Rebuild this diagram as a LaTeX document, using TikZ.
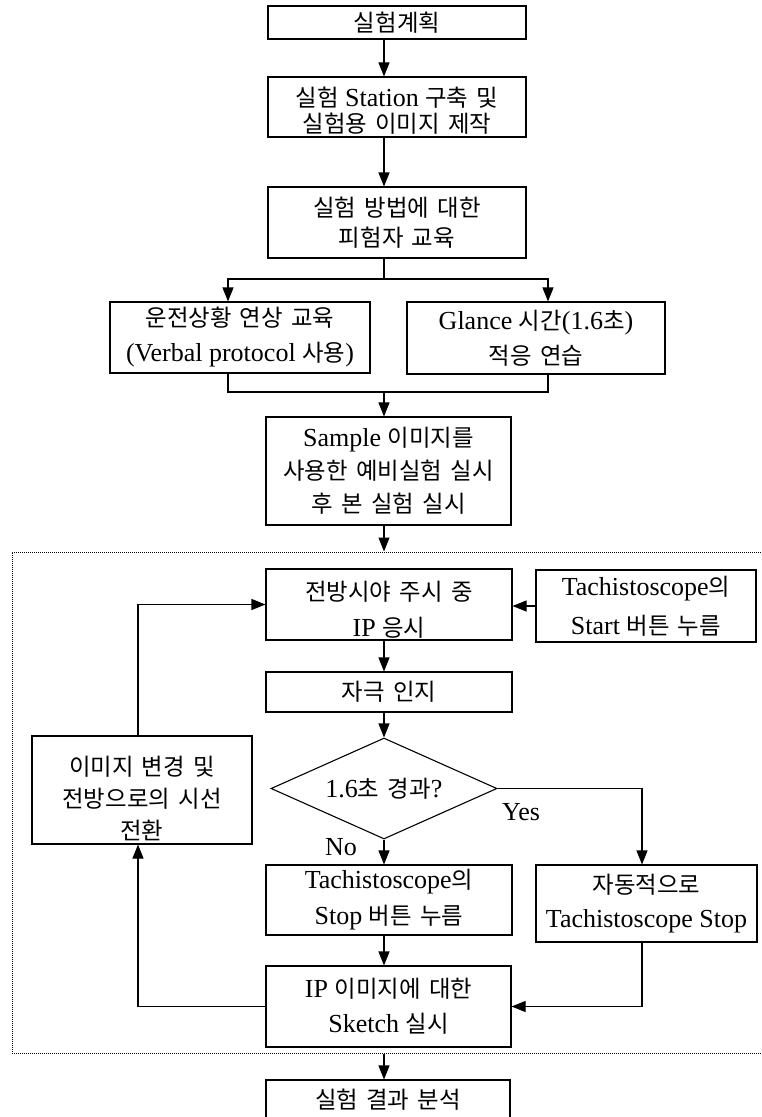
\documentclass[tikz,border=0pt]{standalone}
\usepackage{fontspec}
\setmainfont{Liberation Serif}[Scale=1.3]
\newfontfamily\krfont{Noto Sans CJK KR}[Scale=1.17,WordSpace=1.6]
\newcommand{\hg}[1]{{\krfont #1}}
\newcommand{\haut}[1]{\rule{0pt}{#1}}
\usetikzlibrary{arrows.meta,shapes.geometric}

\begin{document}
\begin{tikzpicture}[x=1pt,y=-1pt,
  boite/.style={draw,line width=1.1pt,align=center,inner sep=0pt,font=\fontsize{20}{33}\selectfont},
  losange/.style={draw,line width=1.1pt,shape=diamond,aspect=2.24,inner sep=0pt,
    minimum width=226pt,minimum height=101pt,font=\fontsize{20}{33}\selectfont},
  etiq/.style={inner sep=0pt,font=\fontsize{20}{24}\selectfont},
  cadre/.style={draw,densely dotted,line width=1pt,inner sep=0pt},
  fl/.style={line width=1.1pt,-{Triangle[length=14pt,width=11pt]}},
  trait/.style={line width=1.1pt}]
  \useasboundingbox (0,0) rectangle (761,1117);
  \clip (0,0) rectangle (761,1117);
  \pgfmathsetmacro{\axe}{384}
  \pgfmathsetmacro{\gauche}{228}
   \pgfmathsetmacro{\droite}{548}
  \pgfmathsetmacro{\fourche}{279}
  \pgfmathsetmacro{\jonction}{392}
  \pgfmathsetmacro{\boucle}{138}
   \pgfmathsetmacro{\oui}{642}
  \coordinate (axe) at (\axe,0);
  \coordinate (gauche) at (\gauche,0);
  \coordinate (droite) at (\droite,0);
  \coordinate (boucle) at (\boucle,0);
  \coordinate (oui) at (\oui,0);
  \coordinate (split) at (\axe,\fourche);
  \coordinate (join) at (\axe,\jonction);
  \node[cadre,minimum width=758pt,minimum height=501pt] (cadre) at (391,802.5) {};
  \node[boite,minimum width=258pt,minimum height=33pt] (plan) at (397,22.5) {\hg{실험계획}};
  \node[boite,minimum width=258pt,minimum height=60pt,font=\fontsize{20}{26}\selectfont] (station) at (397,107)
    {\haut{26pt}\hg{실험} Station \hg{구축 및}\\\hg{실험용 이미지 제작}};
  \node[boite,minimum width=258pt,minimum height=71pt,font=\fontsize{20}{30}\selectfont] (educ) at (397,222.5)
    {\hg{실험 방법에 대한}\\\hg{피험자 교육}};
  \node[boite,minimum width=260pt,minimum height=71pt,font=\fontsize{20}{35}\selectfont] (drive) at (240,337.5)
    {\hg{운전상황 연상 교육}\\(Verbal protocol \hg{사용})};
  \node[boite,minimum width=258pt,minimum height=72pt,font=\fontsize{20}{35}\selectfont] (glance) at (536,338)
    {Glance \hg{시간}(1.6\hg{초})\\\hg{적응 연습}};
  \node[boite,minimum width=245pt,minimum height=108pt] (sample) at (388.5,471)
    {Sample \hg{이미지를}\\\hg{사용한 예비실험 실시}\\\hg{후 본 실험 실시}};
  \node[boite,minimum width=246pt,minimum height=71pt,font=\fontsize{20}{36}\selectfont] (front) at (389,604.5)
    {\haut{29pt}\hg{전방시야 주시 중}\\IP \hg{응시}};
  \node[boite,minimum width=220pt,minimum height=72pt,font=\fontsize{20}{39}\selectfont] (start) at (646,606)
    {Tachistoscope\hg{의}\\Start \hg{버튼 누름}};
  \node[boite,minimum width=246pt,minimum height=40pt] (stim) at (389,692) {\hg{자극 인지}};
  \node[losange] (test) at (\axe,788.5) {1.6\hg{초 경과}?};
  \node[boite,minimum width=220pt,minimum height=108pt,font=\fontsize{20}{32}\selectfont] (change) at (142,790)
    {\haut{36pt}\hg{이미지 변경 및}\\\hg{전방으로의 시선}\\\hg{전환}};
  \node[boite,minimum width=246pt,minimum height=70pt,font=\fontsize{20}{36}\selectfont] (stopbtn) at (389,900)
    {Tachistoscope\hg{의}\\Stop \hg{버튼 누름}};
  \node[boite,minimum width=221pt,minimum height=77pt,font=\fontsize{20}{34}\selectfont] (auto) at (646.5,903.5)
    {\hg{자동적으로}\\Tachistoscope Stop};
  \node[boite,minimum width=245pt,minimum height=81pt,font=\fontsize{20}{35}\selectfont] (sketch) at (388.5,1006.5)
    {IP \hg{이미지에 대한}\\Sketch \hg{실시}};
  \node[boite,minimum width=244pt,minimum height=40pt] (result) at (388,1100) {\hg{실험 결과 분석}};
  \node[etiq] (non) at (341,847) {No};
  \node[etiq] (yes) at (521,812) {Yes};
  \draw[fl] (plan.south -| axe) -- (station.north -| axe);
  \draw[fl] (station.south -| axe) -- (educ.north -| axe);
  \draw[trait] (educ.south -| axe) -- (split);
  \draw[fl] (split) -| (drive.north -| gauche);
  \draw[fl] (split) -| (glance.north -| droite);
  \draw[trait] (drive.south -| gauche) -- (gauche |- join) -- (droite |- join) -- (glance.south -| droite);
  \draw[fl] (join) -- (sample.north -| axe);
  \draw[fl] (sample.south -| axe) -- (cadre.north -| axe);
  \draw[fl] (start.west) -- (start.west -| front.east);
  \draw[fl] (front.south -| axe) -- (stim.north -| axe);
  \draw[fl] (stim.south -| axe) -- (test.north);
  \draw[fl] (test.south) -- (stopbtn.north -| axe);
  \draw[fl] (test.east) -| (auto.north -| oui);
  \draw[fl] (stopbtn.south -| axe) -- (sketch.north -| axe);
  \draw[fl] (auto.south -| oui) |- (sketch.east);
  \draw[fl] (sketch.west) -| (change.south -| boucle);
  \draw[fl] (change.north -| boucle) |- (front.west);
  \draw[fl] (cadre.south -| axe) -- (result.north -| axe);
\end{tikzpicture}
\end{document}
